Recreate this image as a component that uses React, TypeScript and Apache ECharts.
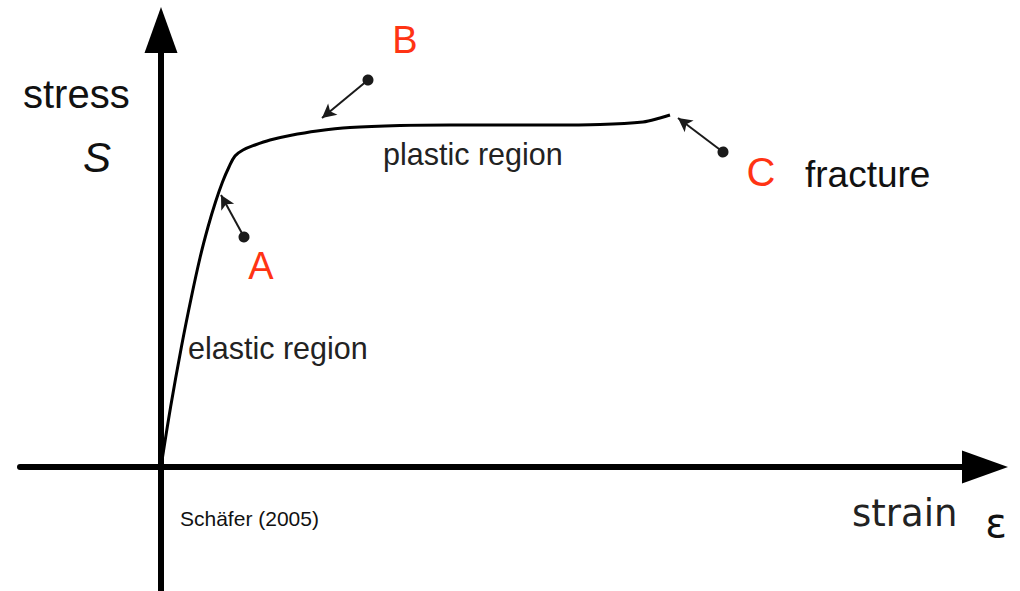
import React, { useEffect, useRef } from "react";
import * as echarts from "echarts";

// Stress–strain curve (arbitrary units)
const strain = [0, 0.096, 0.204, 0.304, 0.392, 0.47, 0.545, 0.615, 0.68, 0.74, 0.82, 0.94, 1.09, 1.29, 1.56, 1.89, 2.39, 2.89, 3.89, 4.39, 4.82, 4.99, 5.09];
const stress = [0, 0.6, 1.2, 1.7, 2.1, 2.4, 2.65, 2.85, 3.0, 3.11, 3.17, 3.22, 3.27, 3.315, 3.36, 3.395, 3.415, 3.42, 3.42, 3.425, 3.45, 3.49, 3.52];

const xRange = [-1.41, 8.24];
const yRange = [-1.24, 4.37];

// Annotation pointers: dot (from) -> arrow tip (to)
const pointerNames = ["A", "B", "C"];
const pointerFrom = [[0.83, 2.3], [2.07, 3.87], [5.62, 3.15]];
const pointerTo = [[0.6, 2.72], [1.61, 3.49], [5.17, 3.49]];

const SANS = "'Liberation Sans', Arial, Helvetica, sans-serif";
const RED = "#ff3414";

export default function App() {
  const ref = useRef<HTMLDivElement>(null);
  useEffect(() => {
    if (!ref.current) return;
    const chart = echarts.init(ref.current, null, { renderer: "svg" });
    const data = strain.map((x, i) => [x, stress[i]]);
    const markData = pointerFrom.map((f, i) => [
      { name: pointerNames[i], coord: f },
      { coord: pointerTo[i] },
    ]);
    const txt = (text: string, x: number, y: number, size: number, opts: any = {}) => ({
      type: "text",
      x,
      y,
      silent: true,
      style: {
        text,
        fontSize: size,
        fontFamily: opts.family || SANS,
        fontStyle: opts.style || "normal",
        fill: opts.color || "#111",
        align: opts.align || "left",
        verticalAlign: "middle",
      },
    });
    chart.setOption({
      animation: false,
      backgroundColor: "#fff",
      grid: { left: 20, right: 35, top: 30, bottom: 0 },
      xAxis: {
        type: "value",
        min: xRange[0],
        max: xRange[1],
        axisLine: {
          show: true,
          onZero: true,
          symbol: ["none", "triangle"],
          symbolSize: [33, 46],
          lineStyle: { color: "#000", width: 6 },
        },
        axisTick: { show: false },
        axisLabel: { show: false },
        splitLine: { show: false },
      },
      yAxis: {
        type: "value",
        min: yRange[0],
        max: yRange[1],
        axisLine: {
          show: true,
          onZero: true,
          symbol: ["none", "triangle"],
          symbolSize: [33, 46],
          lineStyle: { color: "#000", width: 6 },
        },
        axisTick: { show: false },
        axisLabel: { show: false },
        splitLine: { show: false },
      },
      series: [
        {
          type: "line",
          data,
          smooth: 0.35,
          symbol: "none",
          lineStyle: { color: "#000", width: 3 },
          silent: true,
          markLine: {
            silent: true,
            symbol: ["circle", "arrow"],
            symbolSize: [11, 14],
            label: { show: false },
            emphasis: { disabled: true },
            lineStyle: { color: "#1a1a1a", width: 2, type: "solid" },
            data: markData,
          },
        },
      ],
      graphic: [
        txt("stress", 23, 94, 40),
        txt("S", 97, 157, 42, { style: "italic", align: "center" }),
        txt("A", 261, 266, 38, { color: RED, align: "center" }),
        txt("B", 405, 40, 38, { color: RED, align: "center" }),
        txt("C", 761, 172, 40, { color: RED, align: "center" }),
        txt("fracture", 805, 174, 37),
        txt("plastic region", 383, 154, 30.5, { color: "#222" }),
        txt("elastic region", 188, 348, 30.5, { color: "#222" }),
        txt("strain", 852, 513, 37, { family: "'DejaVu Sans', sans-serif", color: "#222" }),
        txt("ε", 996, 523, 40, { family: "'DejaVu Sans', sans-serif", align: "center" }),
        txt("Schäfer (2005)", 180, 518, 21),
      ],
    });
    return () => chart.dispose();
  }, []);
  return <div ref={ref} style={{ position: "fixed", left: 0, top: 0, width: 1020, height: 591 }} />;
}
